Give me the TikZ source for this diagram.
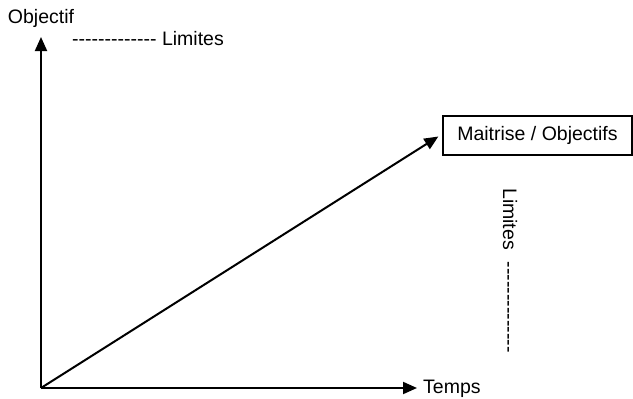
\documentclass[tikz,border=0pt]{standalone}
\usepackage{fontspec}
\setmainfont{Liberation Sans}[Ligatures=TeXOff]
\usetikzlibrary{arrows.meta}
\begin{document}
\begin{tikzpicture}[x=1pt,y=-1pt,
  axis/.style={line width=2pt,-{Triangle[length=14pt,width=12pt]}},
  lbl/.style={inner sep=0pt,font=\fontsize{19.5}{23}\selectfont},
  boxed/.style={draw,line width=1.3pt,inner sep=0pt,minimum width=189pt,minimum height=39pt,font=\fontsize{19.5}{23}\selectfont}]
\useasboundingbox (0,0) rectangle (633,399);
\coordinate (O) at (41,388);
\coordinate (ytop) at (41,37);
\coordinate (xend) at (417,388);
\node[boxed] (box) at (537.5,135.5) {Maitrise / Objectifs};
\coordinate (tip) at ([xshift=-4pt,yshift=-1pt]box.west);
\draw[axis] (O) -- (ytop);
\draw[axis] (O) -- (xend);
\draw[axis] (O) -- (tip);
\node[lbl] (obj) at (41,18) {Objectif};
\node[lbl,anchor=west] (lim1) at (72,39) {------------- Limites};
\node[lbl,anchor=west] (temps) at (423,389) {Temps};
\node[lbl,anchor=west,rotate=-90] (lim2) at (510,188) {Limites\hspace{12pt}--------------};
\end{tikzpicture}
\end{document}
